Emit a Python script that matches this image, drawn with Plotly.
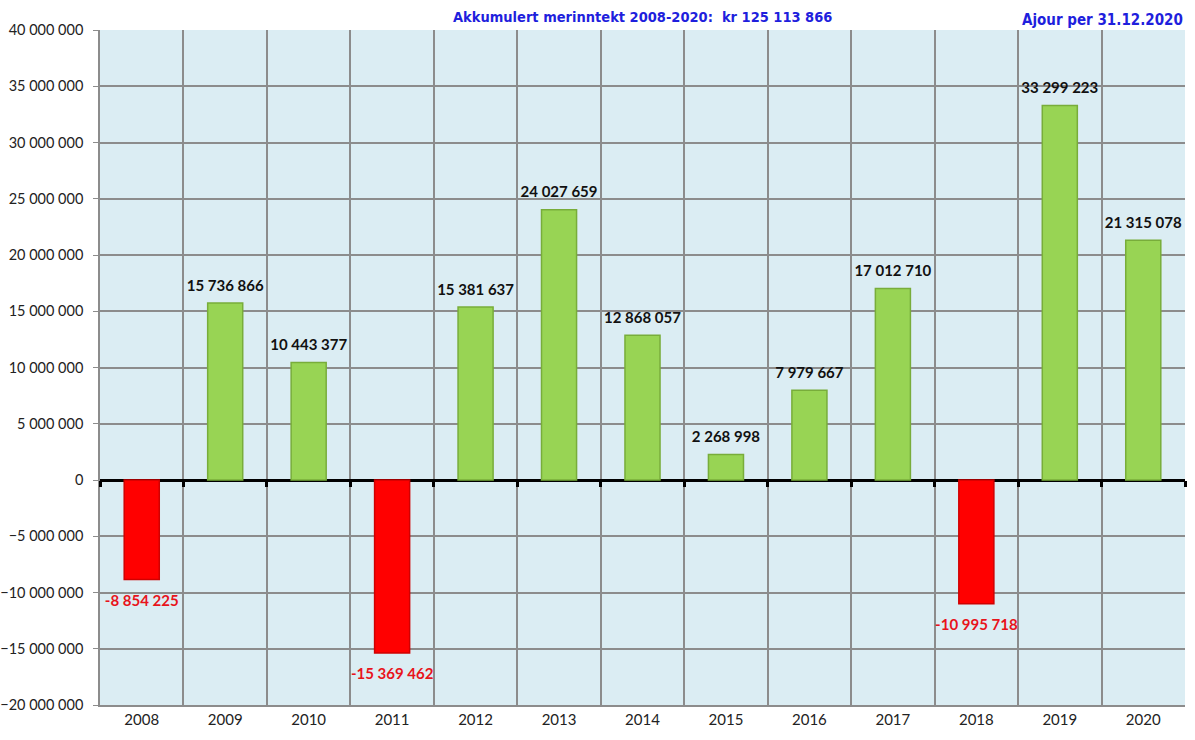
import plotly.graph_objects as go

years = ["2008", "2009", "2010", "2011", "2012", "2013", "2014", "2015", "2016", "2017", "2018", "2019", "2020"]
values = [-8854225, 15736866, 10443377, -15369462, 15381637, 24027659, 12868057,
          2268998, 7979667, 17012710, -10995718, 33299223, 21315078]
title_text = "Akkumulert merinntekt 2008-2020:  kr 125 113 866"
date_text = "Ajour per 31.12.2020"

def fmt(v):
    s = f"{abs(v):,}".replace(",", " ")
    return ("-" if v < 0 else "") + s

xs = list(range(len(years)))
bounds = [i - 0.5 for i in range(len(years) + 1)]
green, red = "#98D454", "#FF0000"
fill = [green if v >= 0 else red for v in values]
edge = ["#78AD3A" if v >= 0 else "#D00000" for v in values]
tcol = ["#111111" if v >= 0 else "#E8141B" for v in values]
tpos = ["top center" if v >= 0 else "bottom center" for v in values]
pad = [12 if v >= 0 else 22 for v in values]

fig = go.Figure()
fig.add_trace(go.Bar(
    x=xs, y=values, width=0.42,
    marker=dict(color=fill, line=dict(color=edge, width=1.5)),
    hoverinfo="skip",
))
# value labels
fig.add_trace(go.Scatter(
    x=xs, y=values, mode="markers+text",
    marker=dict(size=pad, opacity=0),
    text=["<b>" + fmt(v) + "</b>" for v in values], textposition=tpos,
    textfont=dict(family="Lato, Open Sans, sans-serif", size=15, color=tcol),
    cliponaxis=False, hoverinfo="skip", showlegend=False,
))
# invisible trace on overlay axis to draw ticks on zero line
fig.add_trace(go.Scatter(x=[bounds[0], bounds[-1]], y=[0, 0], xaxis="x2",
                         mode="lines", line=dict(width=0), hoverinfo="skip", showlegend=False))

fig.update_layout(
    width=1195, height=740,
    margin=dict(l=100, r=10, t=30, b=35, autoexpand=False),
    paper_bgcolor="white", plot_bgcolor="#DBEDF3",
    showlegend=False, separators=", ",
    font=dict(family="Lato, Open Sans, DejaVu Sans, sans-serif", color="#222222"),
    xaxis=dict(range=[bounds[0], bounds[-1]], tickvals=xs, ticktext=years,
               showgrid=False, ticks="", tickfont=dict(size=15, color="#222"),
               showline=True, linecolor="#8C8C8C", linewidth=1.5, automargin=False,
               minor=dict(tickvals=bounds, showgrid=True, gridcolor="#8C8C8C", gridwidth=1.5),
               zeroline=False, fixedrange=True),
    xaxis2=dict(overlaying="x", anchor="free", position=20/60, range=[bounds[0], bounds[-1]],
                tickvals=bounds, ticks="outside", ticklen=6, tickwidth=2.5, tickcolor="black",
                showticklabels=False, showgrid=False, showline=False, zeroline=False, automargin=False),
    yaxis=dict(range=[-20000000, 40000000], dtick=5000000, tickformat=",d",
               showgrid=True, gridcolor="#8C8C8C", gridwidth=1.5,
               zeroline=True, zerolinecolor="black", zerolinewidth=2.5,
               ticks="outside", ticklen=5, tickcolor="#8C8C8C", ticklabelstandoff=7,
               showline=True, linecolor="#8C8C8C", linewidth=1.5, automargin=False,
               tickfont=dict(size=14.5, color="#222")),
    annotations=[
        dict(text="<b>" + title_text + "</b>", x=0.5, xref="paper", y=1, yref="paper",
             xanchor="center", yanchor="bottom", yshift=3, showarrow=False,
             font=dict(family="DejaVu Sans Condensed, Liberation Sans Narrow, Liberation Sans", size=14.5, color="#1F1FDD")),
        dict(text="<b>" + date_text + "</b>", x=1, xref="paper", y=1, yref="paper",
             xanchor="right", yanchor="bottom", xshift=0, yshift=-1, showarrow=False,
             font=dict(family="DejaVu Sans Condensed, Liberation Sans Narrow, Liberation Sans", size=15, color="#1F1FDD")),
    ],
)
fig.write_html("out.html", config={"displayModeBar": False},
               post_script="document.body.style.margin='0px';document.body.style.overflow='hidden';")
